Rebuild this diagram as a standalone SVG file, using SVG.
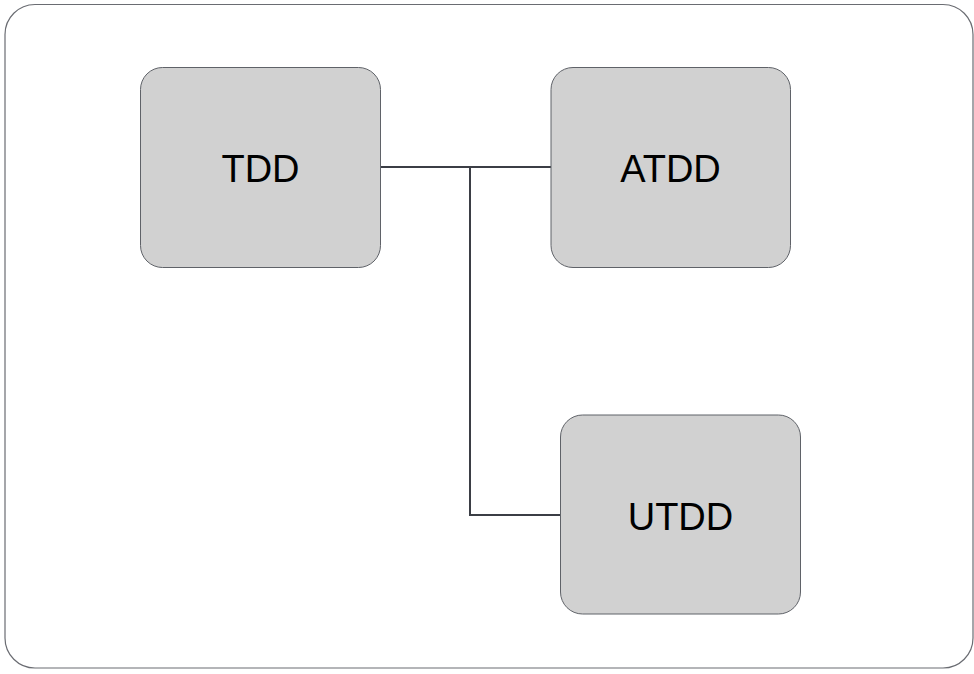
<svg xmlns="http://www.w3.org/2000/svg" width="974" height="674" viewBox="0 0 974 674">
<style>
.frame{fill:#ffffff;stroke:#6a6c72;stroke-width:1.2}
.box{fill:#d1d1d1;stroke:#5f6268;stroke-width:1}
.lbl{font-family:"Liberation Sans",Arial,sans-serif;font-size:38px;fill:#000;text-anchor:middle}
.conn{fill:none;stroke:#3b3e45;stroke-width:2}
</style>
<rect class="frame" x="5" y="4.5" width="968" height="663.5" rx="30" ry="30"/>
<g id="connectors">
<polyline class="conn" points="380.5,167 551,167"/>
<polyline class="conn" points="470,167 470,515 560.5,515"/>
</g>
<g id="node-tdd">
<rect class="box" x="140.5" y="67.5" width="240" height="200" rx="22" ry="22"/>
<text class="lbl" x="260.5" y="182">TDD</text>
</g>
<g id="node-atdd">
<rect class="box" x="551" y="67.5" width="239.5" height="200" rx="22" ry="22"/>
<text class="lbl" x="670.5" y="182">ATDD</text>
</g>
<g id="node-utdd">
<rect class="box" x="560.5" y="415" width="240" height="199" rx="22" ry="22"/>
<text class="lbl" x="680.5" y="530">UTDD</text>
</g>
</svg>
